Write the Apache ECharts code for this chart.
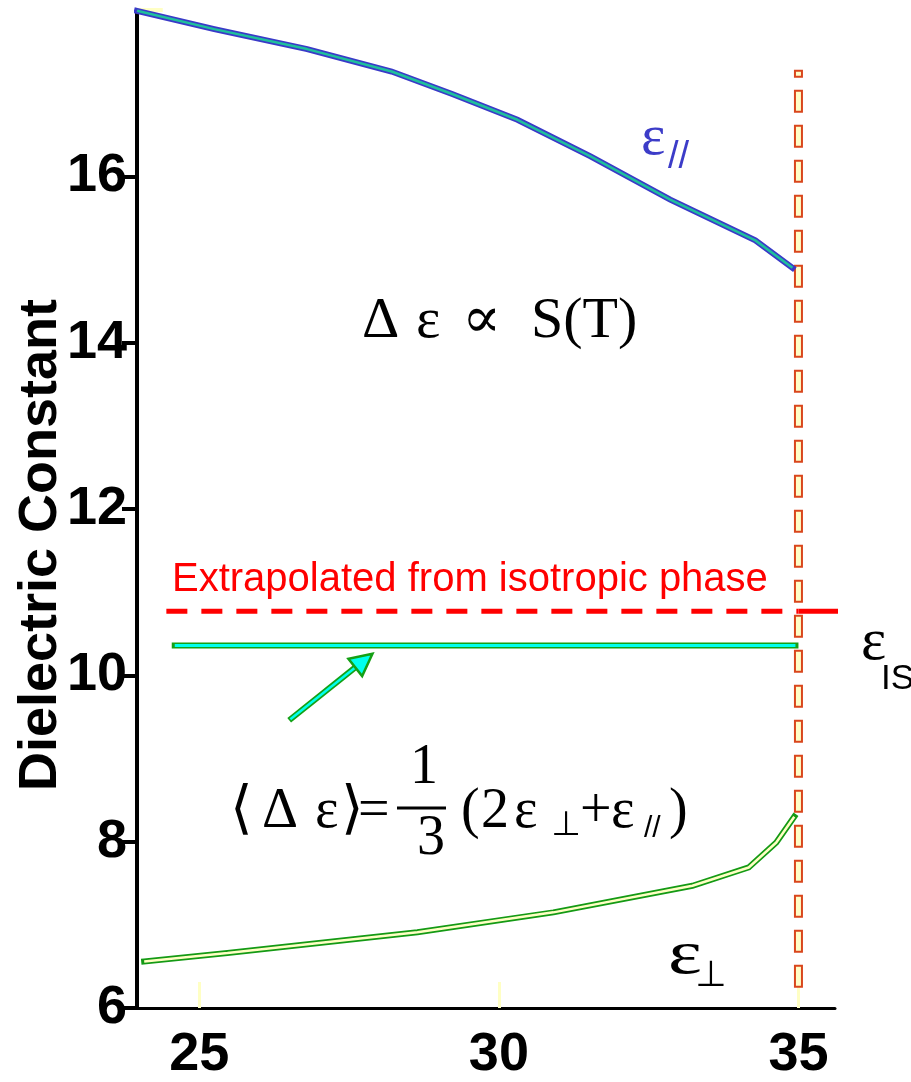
<!DOCTYPE html>
<html><head><meta charset="utf-8">
<script src="https://cdn.jsdelivr.net/npm/echarts/dist/echarts.min.js"></script>
<style>html,body{margin:0;padding:0;background:#fff}#c{width:911px;height:1082px}</style>
</head><body><div id="c"></div><script>
// ---- data ----
const tempPar  = [23.96, 25.25, 26.80, 28.21, 29.22, 30.31, 31.53, 32.86, 34.28, 34.90];
const epsPar   = [17.99, 17.77, 17.53, 17.26, 16.99, 16.68, 16.24, 15.72, 15.23, 14.90];
const tempPerp = [24.08, 25.47, 28.64, 30.91, 33.23, 34.17, 34.63, 34.93];
const epsPerp  = [6.56, 6.66, 6.91, 7.15, 7.47, 7.69, 7.99, 8.30];
const tNI = 35;                 // transition temperature
const tNItop = 17.27;           // top of transition marker
const epsIsoExtrap = 10.77;     // extrapolated isotropic value
const extrapRange = [24.45, 35];
const isoRange = [35, 36.82];
const epsAvg = 10.36;           // <eps> average
const avgRange = [24.59, 34.95];
const arrowFrom = [26.50, 9.46];
const arrowTo   = [27.89, 10.26];
const xTicks = [25, 30, 35];
const yTicks = [6, 8, 10, 12, 14, 16];
const xMin = 23.96, xMax = 35.61, yMin = 6, yMax = 18;

const zip = (a, b) => a.map((v, i) => [v, b[i]]);
const serif = "'Liberation Serif','DejaVu Serif',serif";
const sans = "'Liberation Sans',Arial,sans-serif";

function lineSeries(data, color, width, extra) {
  return Object.assign({
    type: 'line', data: data, symbol: 'none', silent: true, animation: false,
    lineStyle: { color: color, width: width }
  }, extra || {});
}
function txt(text, x, y, size, opts) {
  opts = opts || {};
  return Object.assign({ type: 'text', x: x, y: y, silent: true,
    style: { text: text, fontSize: size, fontFamily: opts.family || serif, fontWeight: opts.weight || 'normal',
      fill: opts.color || '#000', align: opts.align || 'left', verticalAlign: 'middle' } },
    opts.el || {});
}

const chart = echarts.init(document.getElementById('c'));
chart.setOption({
  animation: false,
  grid: { left: 137, right: 76, top: 10, bottom: 69 },
  xAxis: {
    type: 'value', min: xMin, max: xMax,
    axisLine: { lineStyle: { color: '#000', width: 3 } },
    axisTick: { show: true, inside: true, length: 26, customValues: xTicks, lineStyle: { color: '#ffffc4', width: 3 } },
    axisLabel: { customValues: xTicks, fontSize: 54, fontWeight: 'bold', fontFamily: sans, color: '#000', margin: 20 },
    splitLine: { show: false }
  },
  yAxis: {
    type: 'value', min: yMin, max: yMax,
    axisLine: { show: true, lineStyle: { color: '#000', width: 4 } },
    axisTick: { show: true, inside: false, length: 15, customValues: yTicks, lineStyle: { color: '#000', width: 4 } },
    axisLabel: { customValues: yTicks, fontSize: 54, fontWeight: 'bold', fontFamily: sans, color: '#000', margin: 10 },
    splitLine: { show: false }
  },
  series: [
    lineSeries([[xMin, yMax], [xMin + 0.43, yMax]], '#ffffc4', 4, { z: 1 }),
    // transition marker: hollow dashes drawn along the data extent
    {
      type: 'custom', z: 2, silent: true, animation: false, clip: false,
      data: [[tNI, tNItop, yMin]],
      encode: { x: 0, y: [1, 2] },
      renderItem: function (params, api) {
        const top = api.coord([api.value(0), api.value(1)]);
        const bot = api.coord([api.value(0), api.value(2)]);
        const dash = 21, period = 35, phase = 15, w = 7;
        const children = [];
        for (let s = top[1] - phase; s < bot[1] - 20; s += period) {
          const y0 = Math.max(s, top[1]), y1 = Math.min(s + dash, bot[1]);
          if (y1 - y0 < 2) continue;
          children.push({ type: 'rect', shape: { x: top[0] - w / 2, y: y0, width: w, height: y1 - y0 },
            style: { fill: '#ffffc8', stroke: '#d9461c', lineWidth: 2 } });
        }
        return { type: 'group', children: children };
      }
    },
    // extrapolated isotropic
    lineSeries([[extrapRange[0], epsIsoExtrap], [extrapRange[1], epsIsoExtrap]], '#ff0000', 5, { z: 4, lineStyle: { color: '#ff0000', width: 5, type: [21, 14] } }),
    lineSeries([[isoRange[0], epsIsoExtrap], [isoRange[1], epsIsoExtrap]], '#ff0000', 5, { z: 4, clip: false }),
    // average
    lineSeries([[avgRange[0], epsAvg], [avgRange[1], epsAvg]], '#15a015', 6, { z: 5, lineStyle: { color: '#15a015', width: 6, cap: 'square' } }),
    lineSeries([[avgRange[0], epsAvg], [avgRange[1], epsAvg]], '#00ffee', 3, { z: 6 }),
    // eps parallel
    lineSeries(zip(tempPar, epsPar), '#3a3ac8', 6, { z: 7, lineStyle: { color: '#3a3ac8', width: 6, cap: 'square', join: 'miter' } }),
    lineSeries(zip(tempPar, epsPar), '#1fc09c', 2.5, { z: 8 }),
    // eps perpendicular
    lineSeries(zip(tempPerp, epsPerp), '#149a14', 6, { z: 7, lineStyle: { color: '#149a14', width: 6, cap: 'square', join: 'miter' } }),
    lineSeries(zip(tempPerp, epsPerp), '#ffffc4', 2.5, { z: 8 }),
    // arrow
    {
      type: 'custom', z: 9, silent: true, animation: false,
      data: [[arrowFrom[0], arrowFrom[1], arrowTo[0], arrowTo[1]]],
      encode: { x: [0, 2], y: [1, 3] },
      renderItem: function (params, api) {
        const p0 = api.coord([api.value(0), api.value(1)]);
        const p1 = api.coord([api.value(2), api.value(3)]);
        const dx = p1[0] - p0[0], dy = p1[1] - p0[1], L = Math.hypot(dx, dy);
        const ux = dx / L, uy = dy / L, nx = -uy, ny = ux;
        const hl = 22, hw = 11;
        const b = [p1[0] - ux * hl, p1[1] - uy * hl];
        return { type: 'group', children: [
          { type: 'line', shape: { x1: p0[0], y1: p0[1], x2: b[0], y2: b[1] }, style: { stroke: '#15a015', lineWidth: 6 } },
          { type: 'line', shape: { x1: p0[0] + ux * 1.5, y1: p0[1] + uy * 1.5, x2: b[0], y2: b[1] }, style: { stroke: '#00ffee', lineWidth: 2.5 } },
          { type: 'polygon', shape: { points: [p1, [b[0] + nx * hw, b[1] + ny * hw], [b[0] - nx * hw, b[1] - ny * hw]] },
            style: { fill: '#00ffee', stroke: '#15a015', lineWidth: 2.5, lineJoin: 'miter' } }
        ] };
      }
    }
  ],
  graphic: [
    txt('Dielectric Constant', 41, 545, 54, { family: sans, weight: 'bold', align: 'center', el: { rotation: Math.PI / 2 } }),
    // eps //
    txt('ε', 641, 139, 58, { color: '#3c3cc8' }),
    txt('//', 668, 158, 38, { family: sans, color: '#3c3cc8' }),
    // delta eps ~ S(T)
    txt('Δ', 362, 322, 58),
    txt('ε', 416, 322, 58),
    txt('∝', 462, 322, 58),
    txt('S(T)', 531, 322, 58),
    // extrapolated
    txt('Extrapolated from isotropic phase', 172, 580, 40, { family: sans, color: '#ff0000' }),
    // eps IS
    txt('ε', 861, 643, 60),
    txt('IS', 881, 679, 35, { family: sans }),
    // eps perp
    txt('ε', 668, 957, 62, { el: { scaleX: 1.3 } }),
    txt('⊥', 711, 977, 36, { family: "'DejaVu Sans',sans-serif", align: 'center' }),
    // formula
    txt('⟨', 230, 812, 58),
    txt('Δ', 262, 812, 56),
    txt('ε', 315, 812, 56),
    txt('⟩', 341, 812, 58),
    txt('=', 358, 812, 56),
    txt('1', 424, 768, 56, { align: 'center' }),
    { type: 'line', shape: { x1: 397, y1: 808, x2: 446, y2: 808 }, style: { stroke: '#000', lineWidth: 3 } },
    txt('3', 431, 839, 56, { align: 'center' }),
    txt('(', 461, 812, 56),
    txt('2', 481, 812, 56),
    txt('ε', 514, 812, 56),
    txt('⊥', 566, 826, 34, { family: "'DejaVu Sans',sans-serif", align: 'center' }),
    txt('+', 580, 812, 56),
    txt('ε', 611, 812, 56),
    txt('//', 644, 829, 30, { family: sans }),
    txt(')', 669, 812, 56)
  ]
});
</script></body></html>
